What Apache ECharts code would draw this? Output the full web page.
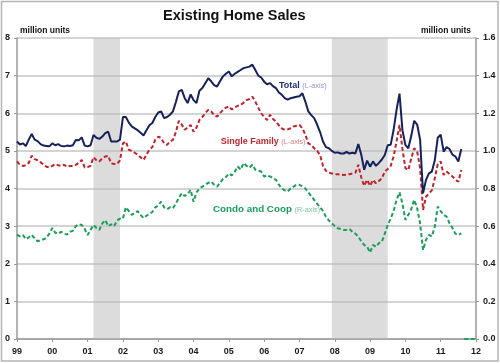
<!DOCTYPE html>
<html><head><meta charset="utf-8">
<script src="https://cdn.jsdelivr.net/npm/echarts@6/dist/echarts.min.js"></script>
<style>html,body{margin:0;padding:0;background:#fff}#c{width:500px;height:363px}</style>
</head><body><div id="c"></div>
<script>
// Year tick labels (Jan of each year)
const yearLabels = ['99','00','01','02','03','04','05','06','07','08','09','10','11','12'];
// Monthly categories Jan 1999 .. Jan 2012
const months = [];
for (let y = 1999; y <= 2012; y++) {
  for (let mo = 1; mo <= 12; mo++) {
    if (y === 2012 && mo > 1) break;
    months.push(y + '-' + String(mo).padStart(2, '0'));
  }
}
// Total existing home sales, million units SAAR (left axis), Jan 1999 - Aug 2011
const totalSales = [
  5.25,5.17,5.20,5.13,5.30,5.45,5.30,5.26,5.18,5.14,5.13,5.12,
  5.20,5.15,5.18,5.13,5.12,5.14,5.13,5.15,5.29,5.28,5.36,5.14,
  5.12,5.15,5.42,5.35,5.32,5.38,5.47,5.51,5.25,5.25,5.25,5.30,
  5.90,5.90,5.75,5.65,5.60,5.55,5.48,5.41,5.55,5.68,5.74,5.90,
  6.02,6.05,5.87,5.90,5.96,6.05,6.30,6.58,6.62,6.40,6.27,6.50,
  6.35,6.27,6.60,6.67,6.80,6.93,6.85,6.75,6.71,6.85,6.98,7.05,
  7.11,6.98,7.05,7.10,7.15,7.20,7.22,7.24,7.29,7.15,7.00,6.95,
  6.84,6.77,6.80,6.72,6.67,6.55,6.49,6.40,6.36,6.40,6.42,6.44,
  6.45,6.53,6.31,6.05,5.95,5.87,5.70,5.50,5.25,5.10,5.07,5.00,
  4.95,4.96,4.93,4.93,4.97,4.93,4.95,4.93,5.18,4.90,4.50,4.74,
  4.58,4.72,4.60,4.68,4.77,4.89,5.15,5.16,5.56,6.09,6.52,5.55,
  5.16,5.07,5.40,5.80,5.70,5.30,3.87,4.23,4.40,4.45,4.75,5.35,
  5.43,4.98,5.10,5.05,4.90,4.85,4.72,5.05
];
// Single family (left axis)
const singleFamily = [
  4.72,4.63,4.60,4.62,4.68,4.87,4.78,4.75,4.70,4.63,4.58,4.56,
  4.60,4.65,4.62,4.60,4.63,4.58,4.60,4.60,4.63,4.68,4.76,4.56,
  4.57,4.60,4.83,4.75,4.72,4.80,4.85,4.87,4.67,4.65,4.65,4.75,
  5.20,5.25,5.03,5.00,4.95,4.90,4.83,4.76,4.90,5.03,5.10,5.30,
  5.38,5.34,5.20,5.16,5.25,5.29,5.50,5.80,5.70,5.56,5.62,5.69,
  5.51,5.62,5.82,5.90,6.00,6.09,6.05,5.95,5.91,6.00,6.09,6.15,
  6.18,6.10,6.15,6.20,6.22,6.28,6.35,6.38,6.44,6.31,6.15,6.00,
  5.90,5.82,5.96,5.85,5.78,5.68,5.60,5.56,5.57,5.60,5.65,5.67,
  5.69,5.60,5.43,5.20,5.16,5.07,5.00,4.89,4.60,4.47,4.42,4.40,
  4.38,4.38,4.37,4.36,4.37,4.38,4.40,4.42,4.63,4.30,4.07,4.23,
  4.07,4.23,4.14,4.20,4.27,4.45,4.52,4.60,4.85,5.25,5.69,5.05,
  4.54,4.49,4.80,5.07,4.98,4.55,3.43,3.78,3.87,3.95,4.27,4.65,
  4.72,4.36,4.45,4.38,4.32,4.23,4.18,4.49
];
// Condo and co-op (right axis)
const condoCoop = [
  0.555,0.546,0.553,0.530,0.540,0.553,0.535,0.520,0.525,0.530,0.537,0.560,
  0.590,0.565,0.560,0.570,0.560,0.555,0.570,0.575,0.600,0.610,0.606,0.585,
  0.553,0.580,0.606,0.590,0.580,0.615,0.632,0.600,0.610,0.600,0.630,0.640,
  0.640,0.700,0.680,0.660,0.670,0.680,0.660,0.643,0.655,0.665,0.675,0.700,
  0.710,0.730,0.700,0.690,0.700,0.695,0.720,0.750,0.775,0.760,0.770,0.793,
  0.730,0.780,0.800,0.810,0.820,0.830,0.837,0.820,0.810,0.830,0.850,0.860,
  0.880,0.870,0.890,0.917,0.900,0.935,0.920,0.910,0.926,0.900,0.895,0.890,
  0.864,0.870,0.864,0.855,0.846,0.820,0.800,0.790,0.784,0.800,0.810,0.820,
  0.820,0.810,0.800,0.780,0.760,0.740,0.720,0.700,0.680,0.650,0.630,0.615,
  0.600,0.589,0.585,0.580,0.580,0.585,0.570,0.560,0.544,0.520,0.500,0.490,
  0.460,0.500,0.490,0.510,0.517,0.560,0.606,0.640,0.680,0.740,0.780,0.720,
  0.633,0.660,0.690,0.740,0.695,0.615,0.473,0.527,0.553,0.545,0.598,0.704,
  0.680,0.660,0.651,0.615,0.590,0.560,0.553,0.562
];
// Trailing zero entries of the condo series (Sep 2011 - Jan 2012)
const condoTailStart = '2011-09';
const condoTail = [0,0,0,0,0];
// Recession periods
const recessions = [['2001-03','2001-12'],['2007-12','2009-07']];

const tailData = months.map(() => '-');
const ts = months.indexOf(condoTailStart);
condoTail.forEach((v, i) => { tailData[ts + i] = v; });

const FF = '"Liberation Sans", Arial, sans-serif';
const NAVY = '#16215c', RED = '#c1222b', GREEN = '#1c9e5b';

const chart = echarts.init(document.getElementById('c'), null, {renderer: 'canvas'});
chart.setOption({
  animation: false,
  backgroundColor: '#fff',
  grid: {left: 17, right: 24, top: 38, bottom: 24, containLabel: false},
  xAxis: {
    type: 'category', data: months, boundaryGap: false,
    axisLine: {lineStyle: {color: '#9a9a9a', width: 1.5}},
    axisTick: {show: true, length: 3, interval: (i) => i % 12 === 0, lineStyle: {color: '#9a9a9a'}},
    axisLabel: {interval: (i) => i % 12 === 0, formatter: (v, i) => yearLabels[Math.round(i / 12)],
      fontFamily: FF, fontWeight: 'bold', fontSize: 9, color: '#1a1a1a', margin: 8},
    splitLine: {show: false}
  },
  yAxis: [{
    type: 'value', min: 0, max: 8, interval: 1, position: 'left',
    axisLine: {show: true, lineStyle: {color: '#9a9a9a', width: 1.5}},
    axisTick: {show: true, length: 3, lineStyle: {color: '#9a9a9a'}},
    axisLabel: {fontFamily: FF, fontWeight: 'bold', fontSize: 9, color: '#1a1a1a', margin: 7},
    splitLine: {show: true, lineStyle: {color: '#c6c6c6', width: 1.5}}
  }, {
    type: 'value', min: 0, max: 1.6, interval: 0.2, position: 'right',
    axisLine: {show: true, lineStyle: {color: '#9a9a9a', width: 1.5}},
    axisTick: {show: true, length: 3, lineStyle: {color: '#9a9a9a'}},
    axisLabel: {fontFamily: FF, fontWeight: 'bold', fontSize: 9, color: '#1a1a1a', margin: 7,
      formatter: (v) => v.toFixed(1)},
    splitLine: {show: false}
  }],
  series: [{
    name: 'Condo and Coop', type: 'line', yAxisIndex: 1, data: condoCoop, symbol: 'none',
    lineStyle: {color: GREEN, width: 2, type: [4, 2.5]},
    markArea: {silent: true, itemStyle: {color: 'rgba(185,185,185,0.5)'},
      data: recessions.map(r => [{xAxis: r[0]}, {xAxis: r[1]}])}
  }, {
    name: 'Condo tail', type: 'line', yAxisIndex: 1, data: tailData, symbol: 'none',
    lineStyle: {color: GREEN, width: 2, type: [4, 2.5]}
  }, {
    name: 'Single Family', type: 'line', yAxisIndex: 0, data: singleFamily, symbol: 'none',
    lineStyle: {color: RED, width: 2, type: [4, 2.5]}
  }, {
    name: 'Total', type: 'line', yAxisIndex: 0, data: totalSales, symbol: 'none',
    lineStyle: {color: NAVY, width: 2}
  }],
  graphic: [
    {type: 'rect', silent: true, z: 100, shape: {x: 1.5, y: 1.5, width: 496.5, height: 359.5},
      style: {fill: 'none', stroke: '#b4b4b4', lineWidth: 1.5}},
    {type: 'text', x: 163, y: 15.5, style: {text: 'Existing Home Sales', fontFamily: FF, fontWeight: 'bold',
      fontSize: 14.5, fill: '#111', align: 'left', verticalAlign: 'middle'}},
    {type: 'text', x: 20, y: 31, style: {text: 'million units', fontFamily: FF, fontWeight: 'bold',
      fontSize: 8.5, fill: '#111', align: 'left', verticalAlign: 'middle'}},
    {type: 'text', x: 471, y: 31, style: {text: 'million units', fontFamily: FF, fontWeight: 'bold',
      fontSize: 8.5, fill: '#111', align: 'right', verticalAlign: 'middle'}},
    {type: 'text', x: 279, y: 86, style: {text: '{a|Total }{b|(L-axis)}', verticalAlign: 'middle', align: 'left',
      rich: {a: {fontFamily: FF, fontWeight: 'bold', fontSize: 9, fill: '#1f2d6e'},
             b: {fontFamily: FF, fontSize: 7.3, fill: '#8d9bc6'}}}},
    {type: 'text', x: 220.7, y: 141.5, style: {text: '{a|Single Family }{b|(L-axis)}', verticalAlign: 'middle', align: 'left',
      rich: {a: {fontFamily: FF, fontWeight: 'bold', fontSize: 9, fill: '#c0272d'},
             b: {fontFamily: FF, fontSize: 7.3, fill: '#d98585'}}}},
    {type: 'text', x: 213, y: 209.5, style: {text: '{a|Condo and Coop }{b|(R-axis)}', verticalAlign: 'middle', align: 'left',
      rich: {a: {fontFamily: FF, fontWeight: 'bold', fontSize: 9.8, fill: '#1a9e5c'},
             b: {fontFamily: FF, fontSize: 7.3, fill: '#80c79d'}}}}
  ]
});
</script></body></html>
